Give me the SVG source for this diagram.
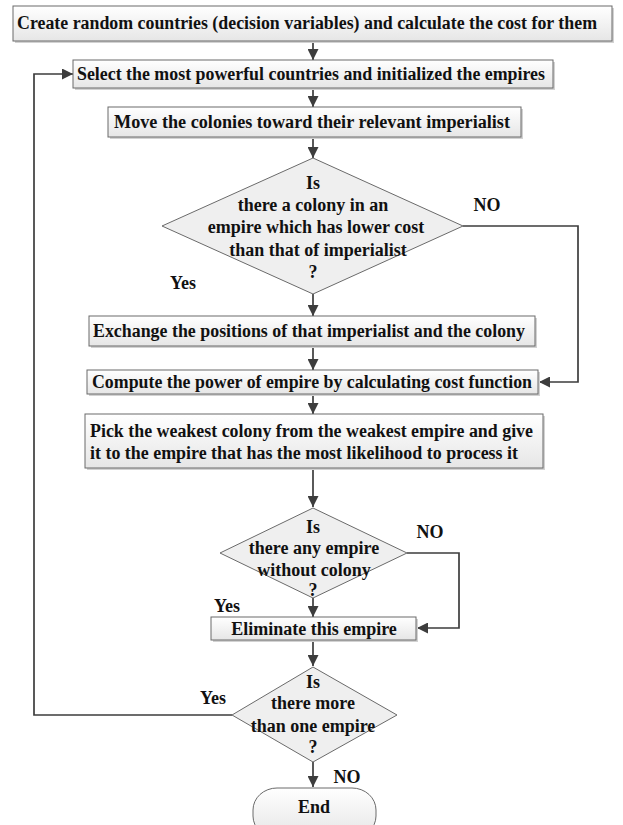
<svg xmlns="http://www.w3.org/2000/svg" width="623" height="825" viewBox="0 0 623 825">
<style>
.box{fill:url(#g);stroke:#6a6a6a;stroke-width:1}
.sh{fill:#d2d2d2}
.dia{fill:#efefef;stroke:#6a6a6a;stroke-width:1}
.t{font-family:"Liberation Serif","Times New Roman",serif;font-weight:bold;font-size:18px;fill:#111}
.c{text-anchor:middle}
.ln{fill:none;stroke:#3d3d3d;stroke-width:1.7}
.ar{marker-end:url(#ah)}
</style>
<defs>
<linearGradient id="g" x1="0" y1="0" x2="0" y2="1">
<stop offset="0" stop-color="#ffffff"/>
<stop offset="1" stop-color="#e6e6e6"/>
</linearGradient>
<marker id="ah" viewBox="0 0 10 10" refX="10" refY="5" markerWidth="12" markerHeight="11" markerUnits="userSpaceOnUse" orient="auto">
<path d="M0,0 L10,5 L0,10 z" fill="#3d3d3d"/>
</marker>
</defs>

<g id="connectors">
<path class="ln ar" d="M313,41 V60"/>
<path class="ln ar" d="M313,88 V107"/>
<path class="ln ar" d="M313,137 V158"/>
<path class="ln ar" d="M313,294 V316"/>
<path class="ln ar" d="M313,346 V370"/>
<path class="ln ar" d="M313,394 V414"/>
<path class="ln ar" d="M313,468 V507"/>
<path class="ln ar" d="M313,598 V617"/>
<path class="ln ar" d="M313,640 V666"/>
<path class="ln ar" d="M313,762 V787"/>
<path class="ln ar" d="M463,226 H578 V382 H539"/>
<path class="ln ar" d="M407,553 H459 V628 H417"/>
<path class="ln ar" d="M232,715 H34 V74 H73"/>
</g>

<g id="n1">
<rect class="sh" x="15" y="8" width="599" height="35"/>
<rect class="box" x="13" y="6" width="599" height="35"/>
<text class="t" x="17" y="29" textLength="580" lengthAdjust="spacingAndGlyphs">Create random countries (decision variables) and calculate the cost for them</text>
</g>

<g id="n2">
<rect class="sh" x="75" y="62" width="480" height="28"/>
<rect class="box" x="73" y="60" width="480" height="28"/>
<text class="t" x="77" y="80" textLength="468" lengthAdjust="spacingAndGlyphs">Select the most powerful countries and initialized the empires</text>
</g>

<g id="n3">
<rect class="sh" x="110" y="109" width="413" height="30"/>
<rect class="box" x="108" y="107" width="413" height="30"/>
<text class="t" x="114" y="128" textLength="396" lengthAdjust="spacingAndGlyphs">Move the colonies toward their relevant imperialist</text>
</g>

<g id="d1">
<polygon class="dia" points="313,158 463,226 313,294 162,226"/>
<text class="t c" x="313" y="189">Is</text>
<text class="t c" x="313" y="211">there a colony in an</text>
<text class="t c" x="316" y="233">empire which has lower cost</text>
<text class="t c" x="318" y="256">than that of imperialist</text>
<text class="t c" x="313" y="278">?</text>
</g>
<text class="t c" x="487" y="211">NO</text>
<text class="t c" x="183" y="289">Yes</text>

<g id="n4">
<rect class="sh" x="91" y="318" width="446" height="30"/>
<rect class="box" x="89" y="316" width="446" height="30"/>
<text class="t" x="93" y="337" textLength="432" lengthAdjust="spacingAndGlyphs">Exchange the positions of that imperialist and the colony</text>
</g>

<g id="n5">
<rect class="sh" x="89" y="372" width="451" height="24"/>
<rect class="box" x="87" y="370" width="451" height="24"/>
<text class="t" x="92" y="388" textLength="440" lengthAdjust="spacingAndGlyphs">Compute the power of empire by calculating cost function</text>
</g>

<g id="n6">
<rect class="sh" x="87" y="416" width="458" height="54"/>
<rect class="box" x="85" y="414" width="458" height="54"/>
<text class="t" x="90" y="437" textLength="443" lengthAdjust="spacingAndGlyphs">Pick the weakest colony from the weakest empire and give</text>
<text class="t" x="90" y="459" textLength="428" lengthAdjust="spacingAndGlyphs">it to the empire that has the most likelihood to process it</text>
</g>

<g id="d2">
<polygon class="dia" points="313,508 407,553 313,598 220,553"/>
<text class="t c" x="313" y="533">Is</text>
<text class="t c" x="314" y="554">there any empire</text>
<text class="t c" x="314" y="576">without colony</text>
<text class="t c" x="313" y="596">?</text>
</g>
<text class="t c" x="430" y="538">NO</text>
<text class="t c" x="227" y="612">Yes</text>

<g id="n7">
<rect class="sh" x="213" y="619" width="205" height="23"/>
<rect class="box" x="211" y="617" width="205" height="23"/>
<text class="t c" x="314" y="635">Eliminate this empire</text>
</g>

<g id="d3">
<polygon class="dia" points="313,667 397,715 313,762 232,715"/>
<text class="t c" x="313" y="688">Is</text>
<text class="t c" x="313" y="709">there more</text>
<text class="t c" x="313" y="732">than one empire</text>
<text class="t c" x="313" y="753">?</text>
</g>
<text class="t c" x="213" y="704">Yes</text>
<text class="t c" x="347" y="783">NO</text>

<g id="end">
<rect class="box" x="253" y="788" width="123" height="50" rx="24" ry="22"/>
<text class="t c" x="314" y="813">End</text>
</g>
</svg>
